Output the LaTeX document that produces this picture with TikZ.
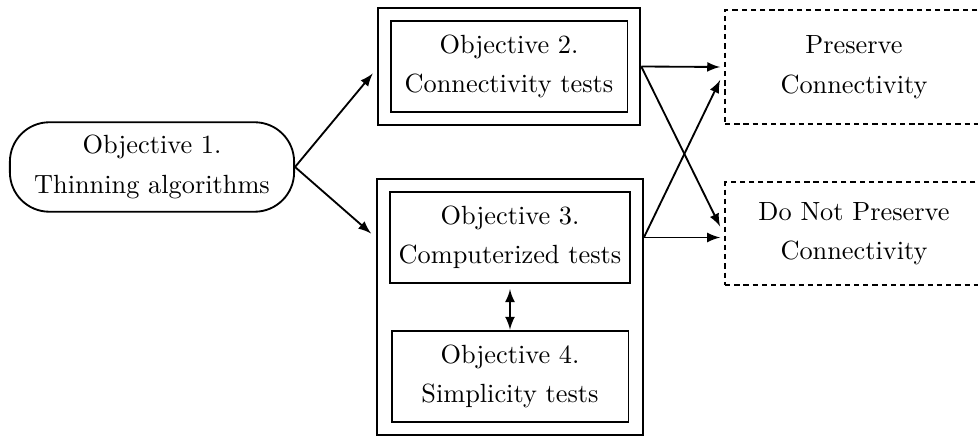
\documentclass[tikz,border=0pt]{standalone}
\usetikzlibrary{fit,calc}
\tikzset{
	arr/.style={line width=0.7pt, ->, >=latex},
	startbox/.style={draw, line width=0.7pt, rounded corners=15pt, align=center, minimum width=108pt, minimum height=34pt, font=\fontsize{10}{15}\selectfont},
	objbox/.style={draw, line width=0.7pt, align=center, minimum width=90pt, minimum height=34.6pt, font=\fontsize{10}{15}\selectfont},
	framebox/.style={draw, line width=0.7pt, inner sep=4.56pt},
	resultbox/.style={draw, line width=0.7pt, dash pattern=on 2pt off 1.5pt, align=center, minimum width=98pt, font=\fontsize{10}{15}\selectfont}
}
\begin{document}
\begin{tikzpicture}[x=0.38pt, y=-0.38pt]
	\useasboundingbox (0,0) rectangle (978,436);
	% start
	\node[startbox] (obj1) at (152,167) {Objective 1.\\Thinning algorithms};
	% middle column
	\node[objbox] (obj2) at (509,66.5) {Objective 2.\\Connectivity tests};
	\node[objbox] (obj3) at (510,237.5) {Objective 3.\\Computerized tests};
	\node[objbox] (obj4) at (510,376.2) {Objective 4.\\Simplicity tests};
	\node[framebox, fit=(obj2)] (frame2) {};
	\node[framebox, fit=(obj3)(obj4)] (frame34) {};
	% outcomes
	\node[resultbox, minimum height=43.3pt] (keep) at (854,67) {Preserve\\Connectivity};
	\node[resultbox, minimum height=39.1pt] (lose) at (854,233.5) {Do Not Preserve\\Connectivity};
	% arrows
	\draw[arr] (obj1.east) -- ($(frame2.west)+(-4,7)$);
	\draw[arr] (obj1.east) -- ($(frame34.west |- obj3.west)+(-5,-4)$);
	\draw[arr, <->] ([yshift=-2pt]obj3.south) -- (obj4.north);
	\draw[arr] (frame2.east) -- ($(keep.west)+(-4,0)$);
	\draw[arr] (frame2.east) -- ($(lose.west)+(-4,-7)$);
	\draw[arr] (frame34.east |- obj3.east) -- ($(lose.west |- obj3.east)+(-4,0)$);
	\draw[arr] (frame34.east |- obj3.east) -- ($(keep.west)+(-4,13)$);
	%\draw (frame34.south west) -- (frame34.south east);
\end{tikzpicture}
\end{document}
